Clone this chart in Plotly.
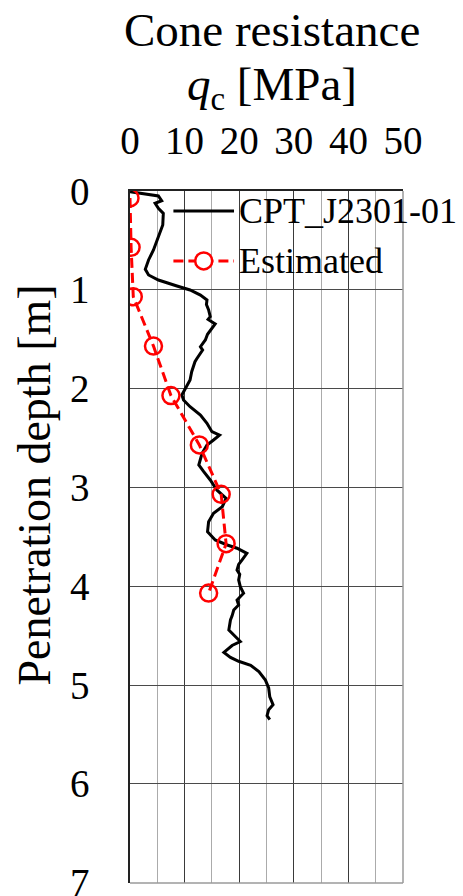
import plotly.graph_objects as go

# CPT sounding CPT_J2301-01: cone resistance qc [MPa] versus penetration depth [m]
cpt_depth = [0.007, 0.04, 0.05, 0.098, 0.124, 0.175, 0.226, 0.344, 0.463, 0.597,
             0.698, 0.792, 0.850, 0.901, 0.962, 1.002, 1.053, 1.103, 1.150, 1.204,
             1.272, 1.300, 1.346, 1.407, 1.450, 1.508, 1.576, 1.610, 1.660, 1.700,
             1.728, 1.780, 1.829, 1.913, 2.014, 2.065, 2.115, 2.183, 2.267, 2.351,
             2.436, 2.470, 2.520, 2.571, 2.655, 2.773, 2.841, 2.925, 3.026, 3.110,
             3.195, 3.262, 3.347, 3.448, 3.532, 3.583, 3.616, 3.667, 3.735, 3.780,
             3.836, 3.880, 3.937, 4.005, 4.072, 4.140, 4.190, 4.241, 4.300, 4.342,
             4.443, 4.511, 4.560, 4.600, 4.670, 4.720, 4.760, 4.800, 4.865, 4.950,
             5.030, 5.120, 5.200, 5.250, 5.310, 5.350]
cpt_qc = [0.0, 3.7, 5.2, 5.8, 4.6, 5.2, 6.1, 6.0, 5.2, 4.3,
          3.4, 2.8, 3.4, 5.2, 8.6, 11.0, 12.9, 14.1, 14.0, 14.4,
          14.7, 14.3, 15.6, 14.7, 14.2, 13.8, 12.9, 13.3, 12.6, 12.2,
          11.9, 11.6, 11.3, 11.0, 10.1, 9.5, 9.8, 11.0, 12.9, 14.1,
          15.0, 16.4, 15.3, 14.1, 13.2, 12.6, 13.5, 14.7, 15.9, 17.6,
          16.9, 15.3, 14.4, 14.2, 15.6, 17.8, 19.6, 21.4, 20.5, 19.9,
          19.6, 20.1, 19.9, 20.2, 20.8, 19.6, 19.9, 19.0, 18.7, 18.4,
          18.1, 19.3, 20.2, 18.7, 17.2, 18.4, 19.9, 22.1, 23.6, 24.8,
          25.4, 25.6, 26.2, 25.4, 25.1, 25.6]

# Estimated cone resistance at 0.5 m intervals
est_depth = [0.07, 0.57, 1.07, 1.57, 2.07, 2.57, 3.07, 3.57, 4.07]
est_qc = [0.0, 0.2, 0.6, 4.3, 7.5, 12.7, 16.7, 17.6, 14.4]

series_names = ["CPT_J2301-01", "Estimated"]
x_ticks = [0, 10, 20, 30, 40, 50]
y_ticks = [0, 1, 2, 3, 4, 5, 6, 7]

SERIF = "Times New Roman, Liberation Serif, DejaVu Serif, serif"
RED = "#ff0000"

fig = go.Figure()
fig.add_trace(go.Scatter(
    x=cpt_qc, y=cpt_depth, mode="lines", name=series_names[0],
    line=dict(color="black", width=3), showlegend=False,
))
fig.add_trace(go.Scatter(
    x=est_qc, y=est_depth, mode="lines+markers", name=series_names[1],
    line=dict(color=RED, width=3, dash="10px,5px"),
    marker=dict(symbol="circle-open", size=17, color=RED, line=dict(width=2.5, color=RED)),
    showlegend=False,
))

fig.update_layout(
    width=463, height=896,
    margin=dict(l=130, r=60, t=191, b=13, autoexpand=False),
    paper_bgcolor="white", plot_bgcolor="white",
    font=dict(family=SERIF, color="black"),
    showlegend=False,
)

fig.update_xaxes(
    side="top", range=[0, 50], tickvals=x_ticks, automargin=False,
    ticks="outside", ticklen=0, ticklabelstandoff=20,
    tickfont=dict(family=SERIF, size=39, color="black"),
    showgrid=True, gridcolor="#3a3a3a", gridwidth=1,
    minor=dict(dtick=5, showgrid=True, gridcolor="#ababab", gridwidth=1),
    showline=True, linecolor="#222", linewidth=1.5, zeroline=False,
)
fig.update_yaxes(
    range=[7.004, 0], tickvals=y_ticks, ticklabeloverflow="allow", automargin=False,
    ticks="outside", ticklen=0, ticklabelstandoff=31,
    tickfont=dict(family=SERIF, size=39, color="black"),
    showgrid=True, gridcolor="#4a4a4a", gridwidth=1,
    showline=True, linecolor="#222", linewidth=1.5, zeroline=False,
)

# lighter frame on the right and bottom edges
fig.add_shape(type="line", xref="paper", yref="paper", x0=1, x1=1, y0=0, y1=1,
              line=dict(color="#9a9a9a", width=1.5), layer="above")
fig.add_shape(type="line", xref="paper", yref="paper", x0=0, x1=1, y0=0, y1=0,
              line=dict(color="#9a9a9a", width=1.5), layer="above")

# axis titles
fig.add_annotation(text="Cone resistance", xref="paper", yref="paper",
                   x=0.52, y=1.232, xanchor="center", yanchor="middle",
                   showarrow=False, font=dict(family=SERIF, size=47, color="black"))
fig.add_annotation(text="<i>q</i><sub>c</sub> [MPa]", xref="paper", yref="paper",
                   x=0.52, y=1.15, xanchor="center", yanchor="middle",
                   showarrow=False, font=dict(family=SERIF, size=47, color="black"))
fig.add_annotation(text="Penetration depth [m]", xref="paper", yref="paper",
                   x=-0.35, y=0.575, xanchor="center", yanchor="middle", textangle=-90,
                   showarrow=False, font=dict(family=SERIF, size=46, color="black"))

# legend keys
leg_x0, leg_x1, leg_text_x = 0.159, 0.381, 0.393
leg_y = [0.971, 0.899]
fig.add_shape(type="line", xref="paper", yref="paper", x0=leg_x0, x1=leg_x1,
              y0=leg_y[0], y1=leg_y[0], line=dict(color="black", width=3))
fig.add_shape(type="line", xref="paper", yref="paper", x0=leg_x0, x1=leg_x1,
              y0=leg_y[1], y1=leg_y[1], line=dict(color=RED, width=3, dash="10px,5px"))
fig.add_shape(type="circle", xref="paper", yref="paper",
              xsizemode="pixel", ysizemode="pixel",
              xanchor=(leg_x0 + leg_x1) / 2, yanchor=leg_y[1],
              x0=-8.5, x1=8.5, y0=-8.5, y1=8.5,
              line=dict(color=RED, width=2.5), fillcolor="white")
for name, yy in zip(series_names, leg_y):
    fig.add_annotation(text=name, xref="paper", yref="paper", x=leg_text_x, y=yy,
                       xanchor="left", yanchor="middle", showarrow=False,
                       font=dict(family=SERIF, size=36, color="black"))

fig.write_html("out.html")
